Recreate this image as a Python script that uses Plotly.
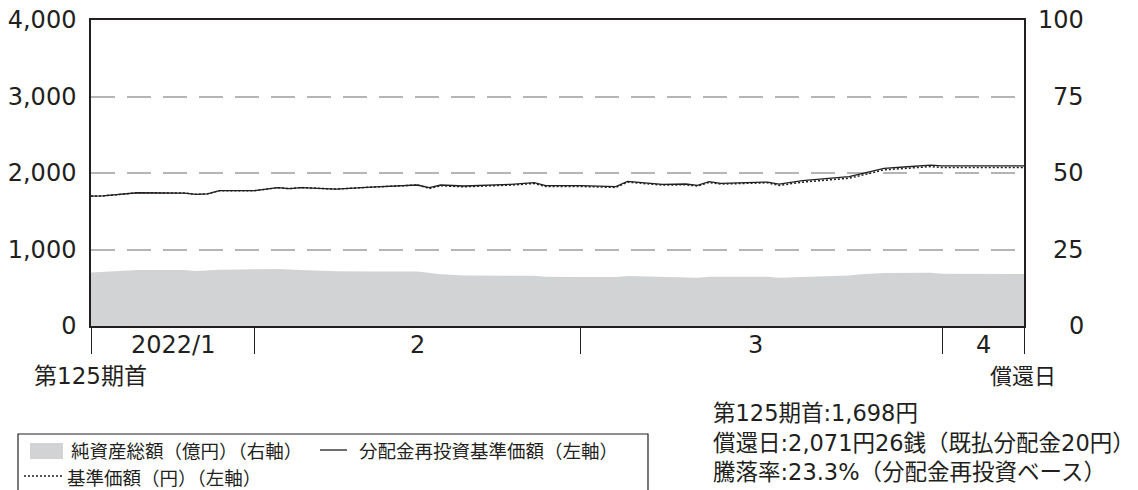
import plotly.graph_objects as go

# ---------------- data ----------------
nav_dates = ["2022-01-18", "2022-01-19", "2022-01-22", "2022-01-26", "2022-01-27", "2022-01-28",
             "2022-01-29", "2022-02-01", "2022-02-03", "2022-02-04", "2022-02-05", "2022-02-07",
             "2022-02-08", "2022-02-11", "2022-02-13", "2022-02-15", "2022-02-16", "2022-02-17",
             "2022-02-19", "2022-02-23", "2022-02-25", "2022-02-26", "2022-03-01", "2022-03-04",
             "2022-03-05", "2022-03-08", "2022-03-10", "2022-03-11", "2022-03-12", "2022-03-13",
             "2022-03-17", "2022-03-18", "2022-03-20", "2022-03-24", "2022-03-25", "2022-03-27",
             "2022-03-29", "2022-03-31", "2022-04-01", "2022-04-08"]
nav_reinvest = [1698, 1700, 1742, 1738, 1721, 1728, 1769, 1769, 1808, 1795, 1810, 1798,
                1790, 1815, 1830, 1843, 1808, 1843, 1830, 1852, 1873, 1834, 1834, 1821,
                1891, 1852, 1856, 1839, 1887, 1865, 1882, 1856, 1900, 1952, 1987, 2061,
                2082, 2104, 2093, 2094]
nav_base = [1698, 1700, 1742, 1738, 1721, 1728, 1769, 1769, 1808, 1795, 1810, 1798,
            1790, 1815, 1830, 1843, 1798, 1833, 1820, 1842, 1863, 1824, 1824, 1811,
            1881, 1842, 1846, 1829, 1877, 1855, 1872, 1838, 1880, 1932, 1967, 2041,
            2062, 2084, 2071, 2071]

asset_dates = ["2022-01-18", "2022-01-22", "2022-01-26", "2022-01-27", "2022-01-29", "2022-02-01",
               "2022-02-03", "2022-02-05", "2022-02-08", "2022-02-11", "2022-02-15", "2022-02-17",
               "2022-02-19", "2022-02-25", "2022-02-26", "2022-03-01", "2022-03-04", "2022-03-05",
               "2022-03-11", "2022-03-12", "2022-03-17", "2022-03-18", "2022-03-20", "2022-03-24",
               "2022-03-25", "2022-03-27", "2022-03-31", "2022-04-01", "2022-04-08"]
net_assets = [17.5, 18.3, 18.3, 18.0, 18.4, 18.4, 18.6, 18.3, 17.9, 17.8, 17.8, 16.9,
              16.5, 16.4, 16.1, 16.0, 16.0, 16.3, 15.8, 16.1, 16.1, 15.8, 16.0, 16.5,
              16.9, 17.3, 17.4, 17.1, 17.0]

left_ticks = [0, 1000, 2000, 3000, 4000]
left_labels = ["0", "1,000", "2,000", "3,000", "4,000"]
right_ticks = [0, 25, 50, 75, 100]
right_labels = ["0", "25", "50", "75", "100"]

x_start, x_end = "2022-01-18", "2022-04-08"
month_bounds = ["2022-01-18", "2022-02-01", "2022-03-01", "2022-04-01", "2022-04-08"]
month_labels = ["2022/1", "2", "3", "4"]
month_label_pos = ["2022-01-25", "2022-02-15", "2022-03-16", "2022-04-04 12:00"]

info_lines = ["第125期首:1,698円", "償還日:2,071円26銭（既払分配金20円）",
              "騰落率:23.3%（分配金再投資ベース）"]
legend_texts = ["純資産総額（億円）（右軸）", "分配金再投資基準価額（左軸）", "基準価額（円）（左軸）"]

# ---------------- layout geometry ----------------
W, H = 1138, 490
L, R, T, B = 91, 1024, 20, 326
FONT = "DejaVu Sans, Noto Sans CJK JP"
CJK = "Noto Sans CJK JP"
TXT = "#231f20"

def px(xp):
    return (xp - L) / (R - L)

def py(yp):
    return (B - yp) / (B - T)

fig = go.Figure()

fig.add_trace(go.Scatter(x=asset_dates, y=net_assets, yaxis="y2", mode="lines",
                         line=dict(width=0, color="#d1d3d4"), fill="tozeroy",
                         fillcolor="#d1d3d4", showlegend=False, hoverinfo="skip"))
fig.add_trace(go.Scatter(x=nav_dates, y=nav_base, mode="lines",
                         line=dict(color=TXT, width=1.5, dash="2px,2px"), showlegend=False))
fig.add_trace(go.Scatter(x=nav_dates, y=nav_reinvest, mode="lines",
                         line=dict(color=TXT, width=1.3), showlegend=False))

shapes = []
annotations = []

# right axis labels (right aligned)
for v, t in zip(right_ticks, right_labels):
    annotations.append(dict(x=px(1086), y=v, xref="paper", yref="y2", text=t, showarrow=False,
                            xanchor="right", yanchor="middle",
                            font=dict(family=FONT, size=24, color=TXT)))

# month labels
for d, t in zip(month_label_pos, month_labels):
    annotations.append(dict(x=d, y=py(345), xref="x", yref="paper", text=t, showarrow=False,
                            xanchor="center", yanchor="middle",
                            font=dict(family=FONT, size=24, color=TXT)))

annotations.append(dict(x=px(90), y=py(376), xref="paper", yref="paper", text="第125期首",
                        showarrow=False, xanchor="center", yanchor="middle",
                        font=dict(family=FONT, size=23, color=TXT)))
annotations.append(dict(x=px(1023), y=py(376), xref="paper", yref="paper", text="償還日",
                        showarrow=False, xanchor="center", yanchor="middle",
                        font=dict(family=FONT, size=22, color=TXT)))

for i, t in enumerate(info_lines):
    annotations.append(dict(x=px(712), y=py(413 + 29.5 * i), xref="paper", yref="paper", text=t,
                            showarrow=False, xanchor="left", yanchor="middle", borderpad=0,
                            font=dict(family=FONT, size=22.5, color=TXT)))

# legend box
shapes.append(dict(type="rect", xref="paper", yref="paper", x0=px(18), x1=px(648),
                   y0=py(434), y1=py(520), line=dict(color=TXT, width=1.2),
                   fillcolor="rgba(0,0,0,0)"))
shapes.append(dict(type="rect", xref="paper", yref="paper", x0=px(30), x1=px(63),
                   y0=py(443), y1=py(459), line=dict(width=0), fillcolor="#d1d3d4"))
shapes.append(dict(type="line", xref="paper", yref="paper", x0=px(320), x1=px(347),
                   y0=py(450), y1=py(450), line=dict(color=TXT, width=1.3)))
shapes.append(dict(type="line", xref="paper", yref="paper", x0=px(24), x1=px(63),
                   y0=py(476), y1=py(476), line=dict(color=TXT, width=1.3, dash="2px,2px")))
legend_font = dict(family=CJK, size=18.5, color=TXT)
annotations.append(dict(x=px(70), y=py(450), xref="paper", yref="paper",
                        text=legend_texts[0], showarrow=False, xanchor="left",
                        yanchor="middle", borderpad=0, font=legend_font))
annotations.append(dict(x=px(358), y=py(450), xref="paper", yref="paper",
                        text=legend_texts[1], showarrow=False, xanchor="left",
                        yanchor="middle", borderpad=0, font=legend_font))
annotations.append(dict(x=px(66), y=py(476.5), xref="paper", yref="paper",
                        text=legend_texts[2], showarrow=False, xanchor="left",
                        yanchor="middle", borderpad=0, font=legend_font))

fig.update_layout(
    width=W, height=H,
    margin=dict(l=L, r=W - R, t=T, b=H - B, pad=0),
    paper_bgcolor="white", plot_bgcolor="white",
    showlegend=False,
    font=dict(family=FONT, color=TXT),
    xaxis=dict(type="date", range=[x_start, x_end], showgrid=False, zeroline=False,
               showline=True, mirror=True, linecolor=TXT, linewidth=1.5, automargin=False,
               tickmode="array", tickvals=month_bounds, ticktext=[""] * len(month_bounds),
               ticks="outside", ticklen=26, tickwidth=1.3, tickcolor=TXT),
    yaxis=dict(range=[0, 4000], tickmode="array", tickvals=left_ticks, ticktext=left_labels,
               showgrid=True, gridcolor="#b5b5b5", gridwidth=1.5, griddash="24px,12px",
               zeroline=False, showline=True, mirror=True, linecolor=TXT, linewidth=1.5,
               automargin=False,
               ticks="", tickfont=dict(family=FONT, size=24, color=TXT), ticklabelstandoff=8),
    yaxis2=dict(range=[0, 100], overlaying="y", side="right", showgrid=False, automargin=False,
                zeroline=False, showline=False, showticklabels=False, ticks=""),
    shapes=shapes,
    annotations=annotations,
)

fig.write_html("out.html")
